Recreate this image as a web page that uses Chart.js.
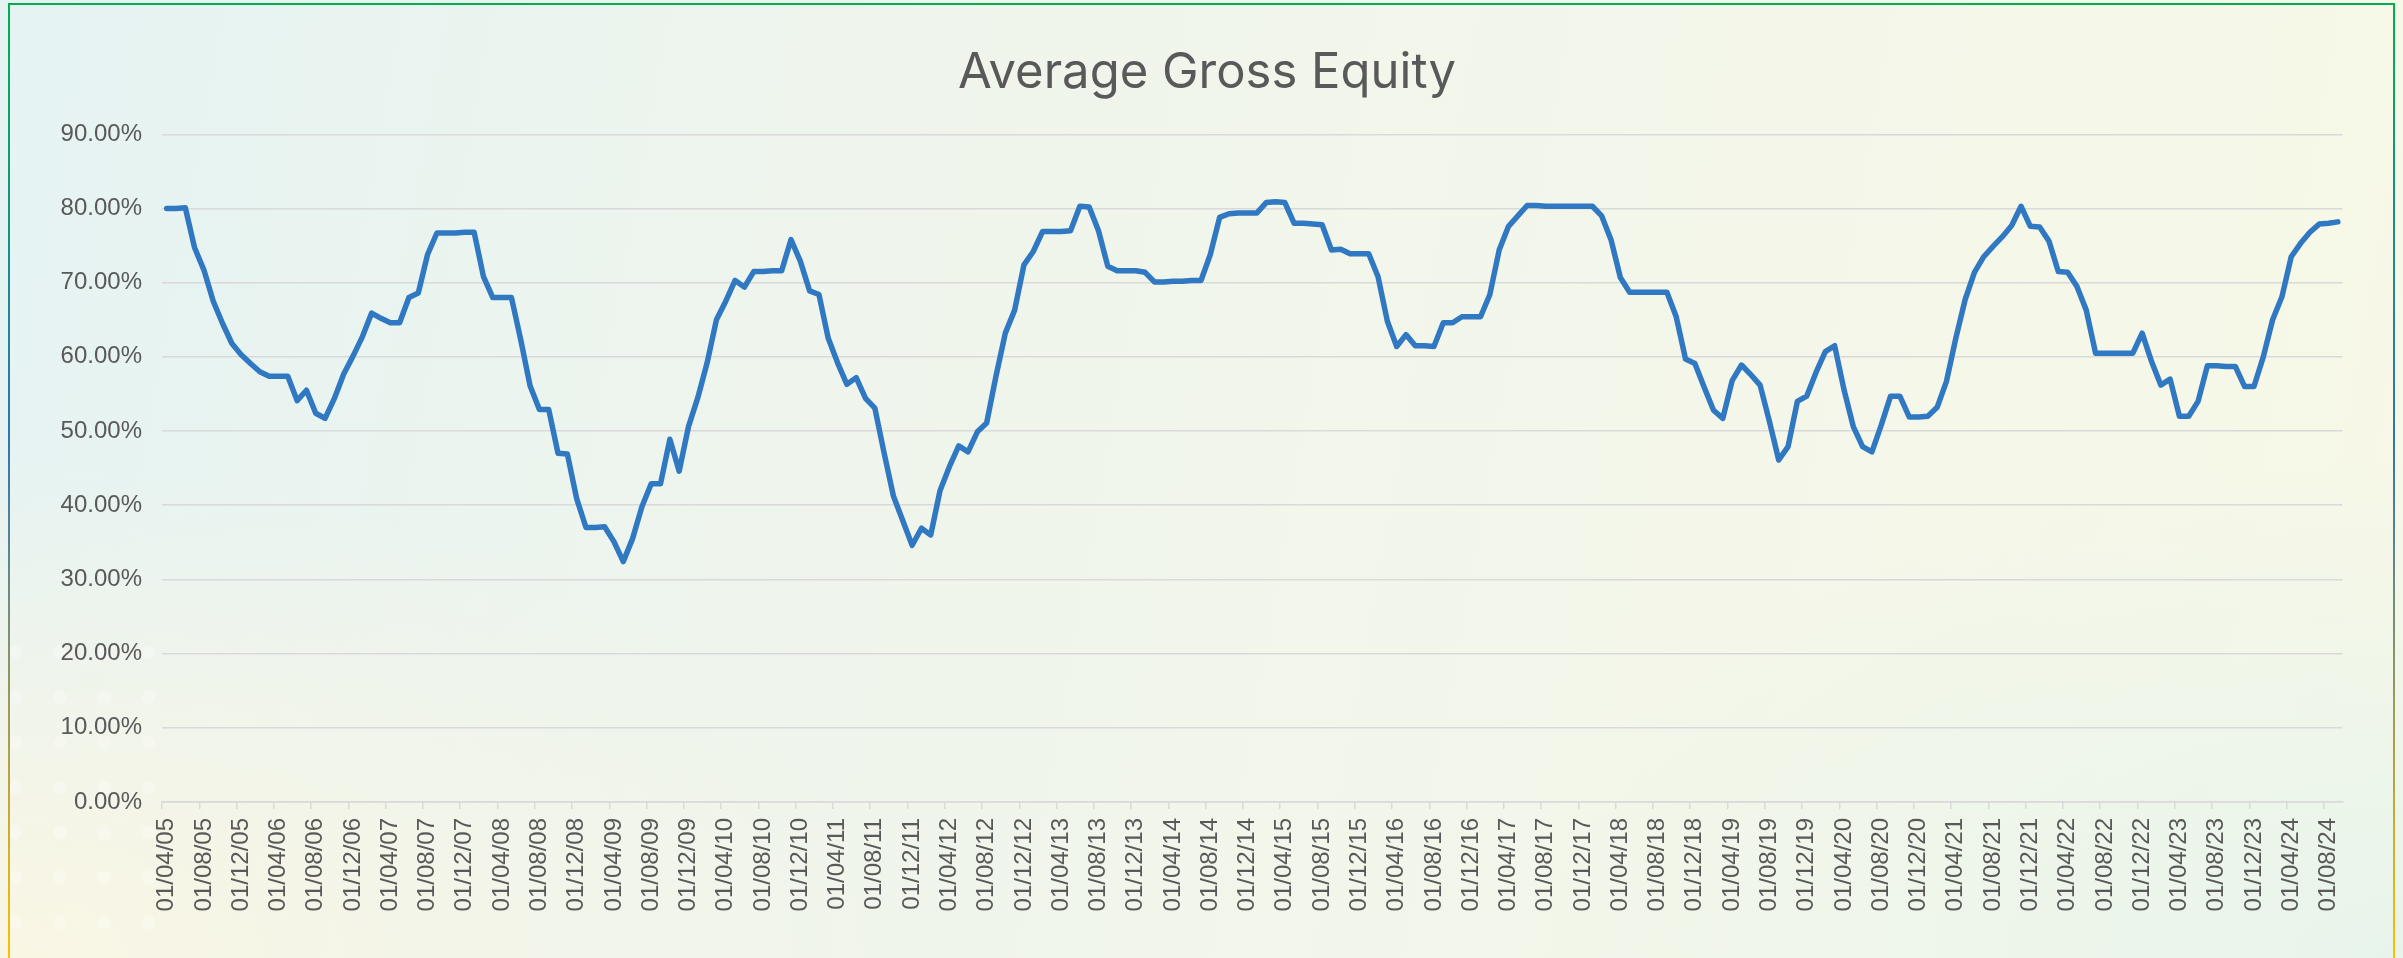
<!DOCTYPE html>
<html>
<head>
<meta charset="utf-8">
<script src="https://cdn.jsdelivr.net/npm/chart.js@4.4.1/dist/chart.umd.min.js"></script>
<style>
  html, body { margin: 0; padding: 0; width: 2403px; height: 958px; overflow: hidden; }
  body {
    background:
      radial-gradient(ellipse 900px 500px at 0% 100%, rgba(252, 246, 226, 0.9), rgba(252, 246, 226, 0) 100%),
      radial-gradient(ellipse 900px 500px at 100% 100%, rgba(230, 244, 236, 0.9), rgba(230, 244, 236, 0) 100%),
      linear-gradient(100deg, #e5f3f3 0%, #eff5ec 35%, #f3f6ea 65%, #f7f8e7 100%);
    position: relative;
  }
  .frame {
    position: absolute; left: 8px; top: 3px; width: 2383px; height: 956px;
    border: 2px solid;
    border-image: linear-gradient(to bottom, #00b050 0%, #2e75b6 45%, #ffc000 100%) 1;
  }
  .dots {
    position: absolute; left: 0; top: 630px; width: 172px; height: 328px;
    background-image: radial-gradient(circle, rgba(255, 255, 255, 0.28) 6px, rgba(255, 255, 255, 0) 7.5px);
    background-size: 44.5px 45px;
    background-position: -7px 0px;
  }
  .title {
    position: absolute; left: 0; top: 46px; width: 2414px;
    text-align: center;
    font-family: 'Inter', sans-serif; font-size: 49px; line-height: 49px; font-weight: 400;
    color: #595959;
  }
  #chart { position: absolute; left: 10px; top: 5px; }
</style>
</head>
<body>
<div class="dots"></div>
<div class="frame"></div>
<div class="title">Average Gross Equity</div>
<canvas id="chart" width="2383" height="953"></canvas>
<script>
// first month of the series and number of monthly points
const startYear = 2005;
const startMonth = 4;
const monthCount = 234;

// monthly categories, dd/mm/yy
const months = [];
for (let i = 0; i < monthCount; i++) {
  const m = (startMonth - 1 + i) % 12 + 1;
  const y = startYear + Math.floor((startMonth - 1 + i) / 12);
  months.push('01/' + String(m).padStart(2, '0') + '/' + String(y % 100).padStart(2, '0'));
}

// average gross equity, % (one row = 12 months, starting Apr 2005)
const grossEquity = [
  80.0, 80.0, 80.1, 74.7, 71.7, 67.5, 64.5, 61.8, 60.3, 59.1, 58.0, 57.4,
  57.4, 57.4, 54.1, 55.5, 52.4, 51.7, 54.4, 57.7, 60.1, 62.7, 65.9, 65.2,
  64.6, 64.6, 68.0, 68.6, 73.8, 76.7, 76.7, 76.7, 76.8, 76.8, 70.8, 68.0,
  68.0, 68.0, 62.3, 56.1, 52.9, 52.9, 47.0, 46.9, 40.9, 37.0, 37.0, 37.1,
  35.1, 32.4, 35.5, 39.8, 42.9, 42.9, 48.9, 44.6, 50.6, 54.5, 59.2, 65.0,
  67.5, 70.3, 69.4, 71.5, 71.5, 71.6, 71.6, 75.8, 72.9, 68.9, 68.4, 62.5,
  59.2, 56.3, 57.2, 54.4, 53.1, 47.0, 41.2, 37.9, 34.6, 36.9, 36.0, 42.0,
  45.2, 48.0, 47.2, 49.9, 51.1, 57.4, 63.2, 66.3, 72.4, 74.2, 76.9, 76.9,
  76.9, 77.0, 80.3, 80.2, 77.0, 72.2, 71.6, 71.6, 71.6, 71.4, 70.1, 70.1,
  70.2, 70.2, 70.3, 70.3, 73.8, 78.8, 79.3, 79.4, 79.4, 79.4, 80.8, 80.9,
  80.8, 78.0, 78.0, 77.9, 77.8, 74.4, 74.5, 73.9, 73.9, 73.9, 70.8, 64.8,
  61.4, 63.0, 61.5, 61.5, 61.4, 64.6, 64.6, 65.4, 65.4, 65.4, 68.4, 74.4,
  77.6, 79.0, 80.4, 80.4, 80.3, 80.3, 80.3, 80.3, 80.3, 80.3, 79.0, 75.8,
  70.7, 68.7, 68.7, 68.7, 68.7, 68.7, 65.4, 59.7, 59.1, 55.9, 52.8, 51.7,
  56.8, 58.9, 57.6, 56.2, 51.3, 46.1, 47.9, 54.0, 54.7, 57.9, 60.7, 61.5,
  55.6, 50.6, 47.9, 47.2, 50.8, 54.7, 54.7, 51.9, 51.9, 52.0, 53.2, 56.7,
  62.5, 67.7, 71.4, 73.5, 74.9, 76.2, 77.7, 80.3, 77.6, 77.5, 75.6, 71.5,
  71.4, 69.5, 66.3, 60.5, 60.5, 60.5, 60.5, 60.5, 63.2, 59.4, 56.2, 57.0,
  52.0, 52.0, 54.0, 58.8, 58.8, 58.7, 58.7, 56.0, 56.0, 60.0, 65.0, 68.1,
  73.5, 75.3, 76.8, 77.9, 78.0, 78.2
];

// only every 4th month gets a label
const labelEvery = 4;
const yTicks = [0, 10, 20, 30, 40, 50, 60, 70, 80, 90];

const textColor = '#595959';
const gridColor = '#d9d9d9';

const ctx = document.getElementById('chart').getContext('2d');
new Chart(ctx, {
  type: 'line',
  data: {
    labels: months,
    datasets: [{
      label: 'Average Gross Equity',
      data: grossEquity,
      borderColor: '#3079c2',
      backgroundColor: '#3079c2',
      borderWidth: 5.5,
      pointRadius: 0,
      tension: 0,
      borderJoinStyle: 'round',
      borderCapStyle: 'round'
    }]
  },
  options: {
    responsive: false,
    animation: false,
    layout: { padding: { left: 0, right: 50.5, top: 129.3, bottom: 0 } },
    plugins: {
      legend: { display: false },
      tooltip: { enabled: false },
      title: { display: false }
    },
    scales: {
      x: {
        offset: true,
        grid: {
          offset: true,
          drawOnChartArea: false,
          tickLength: 7,
          lineWidth: 1.5,
          tickColor: c => (c.index % labelEvery === 0 && c.index < monthCount) ? gridColor : 'rgba(0,0,0,0)'
        },
        border: { color: gridColor, width: 1.5 },
        ticks: {
          autoSkip: false,
          minRotation: 90,
          maxRotation: 90,
          padding: 9,
          color: textColor,
          font: { family: 'Liberation Sans', size: 24 },
          callback: (v, i) => i % labelEvery === 0 ? months[i] : ''
        },
        afterFit: s => { s.height = 156; }
      },
      y: {
        min: yTicks[0],
        max: yTicks[yTicks.length - 1],
        grid: { color: gridColor, lineWidth: 1.5, drawTicks: false },
        border: { display: false },
        ticks: {
          stepSize: 10,
          padding: 20,
          color: textColor,
          font: { family: 'Liberation Sans', size: 24 },
          callback: v => v.toFixed(2) + '%'
        },
        afterFit: s => { s.width = 152; }
      }
    }
  }
});
</script>
</body>
</html>
